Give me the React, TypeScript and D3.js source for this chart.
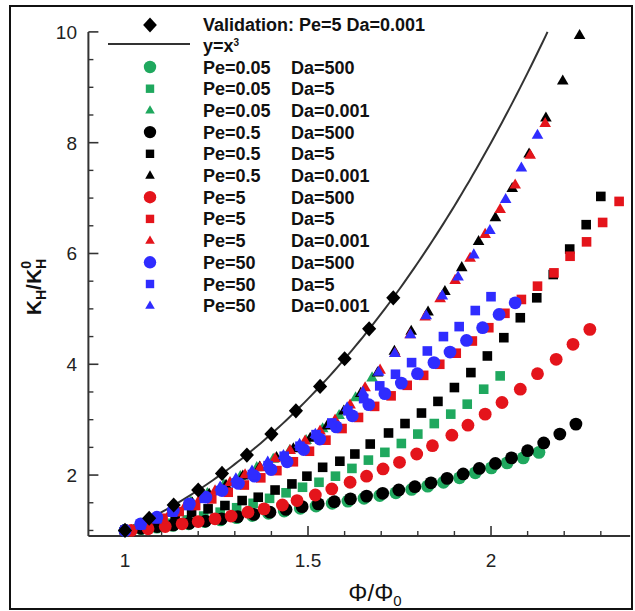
import React from "react";
import * as d3 from "d3";

// ---------- data ----------
const validationX = [1.0, 1.066, 1.133, 1.2, 1.265, 1.333, 1.4, 1.467, 1.533, 1.6, 1.667, 1.733];
const validationY = [1.0, 1.22, 1.46, 1.73, 2.03, 2.36, 2.74, 3.16, 3.6, 4.1, 4.64, 5.2];

const pe005Da500X = [1.0, 1.044, 1.087, 1.131, 1.174, 1.218, 1.261, 1.305, 1.348, 1.392, 1.435, 1.479, 1.522, 1.566, 1.609, 1.653, 1.696, 1.74, 1.783, 1.827, 1.87, 1.914, 1.957, 2.001, 2.044, 2.088, 2.131];
const pe005Da500Y = [1.0, 1.03, 1.06, 1.09, 1.12, 1.16, 1.19, 1.23, 1.27, 1.31, 1.35, 1.4, 1.44, 1.49, 1.53, 1.58, 1.63, 1.68, 1.74, 1.8, 1.87, 1.95, 2.04, 2.13, 2.22, 2.31, 2.41];

const pe005Da5X = [1.0, 1.035, 1.08, 1.125, 1.17, 1.215, 1.26, 1.305, 1.35, 1.395, 1.44, 1.485, 1.53, 1.575, 1.62, 1.665, 1.71, 1.755, 1.8, 1.845, 1.89, 1.935, 1.98, 2.025];
const pe005Da5Y = [1.0, 1.03, 1.08, 1.13, 1.19, 1.26, 1.33, 1.41, 1.49, 1.58, 1.68, 1.78, 1.87, 1.98, 2.12, 2.27, 2.41, 2.57, 2.74, 2.93, 3.1, 3.28, 3.55, 3.79];

const pe005Da0001X = [1.0, 1.045, 1.09, 1.135, 1.18, 1.225, 1.27, 1.315, 1.36, 1.405, 1.45, 1.495, 1.54, 1.585, 1.63, 1.675];
const pe005Da0001Y = [1.0, 1.11, 1.23, 1.37, 1.52, 1.67, 1.83, 1.98, 2.14, 2.29, 2.45, 2.63, 2.84, 3.08, 3.4, 3.76];

const pe05Da500X = [1.0, 1.044, 1.088, 1.132, 1.176, 1.22, 1.264, 1.308, 1.352, 1.396, 1.44, 1.484, 1.528, 1.572, 1.616, 1.66, 1.704, 1.748, 1.792, 1.836, 1.88, 1.924, 1.968, 2.012, 2.056, 2.1, 2.144, 2.188, 2.232];
const pe05Da500Y = [1.0, 1.04, 1.07, 1.1, 1.13, 1.17, 1.21, 1.25, 1.29, 1.33, 1.38, 1.43, 1.48, 1.52, 1.57, 1.62, 1.67, 1.73, 1.79, 1.86, 1.94, 2.02, 2.12, 2.21, 2.31, 2.44, 2.58, 2.74, 2.92];

const pe05Da5X = [1.0, 1.046, 1.091, 1.137, 1.182, 1.227, 1.273, 1.32, 1.364, 1.41, 1.456, 1.497, 1.54, 1.587, 1.628, 1.67, 1.72, 1.765, 1.81, 1.855, 1.9, 1.945, 1.99, 2.035, 2.08, 2.125, 2.17, 2.215, 2.26, 2.3];
const pe05Da5Y = [1.0, 1.08, 1.16, 1.24, 1.32, 1.39, 1.45, 1.54, 1.6, 1.73, 1.84, 1.98, 2.14, 2.25, 2.38, 2.56, 2.76, 2.93, 3.12, 3.33, 3.58, 3.85, 4.15, 4.48, 4.84, 5.2, 5.62, 6.08, 6.52, 7.03];

const pe05Da0001X = [1.0, 1.046, 1.092, 1.138, 1.184, 1.23, 1.276, 1.322, 1.368, 1.414, 1.46, 1.506, 1.552, 1.598, 1.644, 1.69, 1.736, 1.782, 1.828, 1.874, 1.92, 1.966, 2.012, 2.058, 2.104, 2.15, 2.196, 2.242];
const pe05Da0001Y = [1.0, 1.11, 1.23, 1.36, 1.5, 1.66, 1.82, 1.99, 2.15, 2.32, 2.48, 2.67, 2.89, 3.16, 3.48, 3.85, 4.24, 4.6, 4.95, 5.32, 5.75, 6.22, 6.65, 7.18, 7.8, 8.45, 9.12, 9.94];

const pe5Da500X = [1.017, 1.063, 1.11, 1.156, 1.2, 1.246, 1.29, 1.336, 1.38, 1.43, 1.47, 1.52, 1.565, 1.615, 1.66, 1.705, 1.75, 1.797, 1.84, 1.893, 1.937, 1.984, 2.03, 2.08, 2.127, 2.178, 2.224, 2.27];
const pe5Da500Y = [1.0, 1.03, 1.07, 1.12, 1.16, 1.21, 1.26, 1.33, 1.39, 1.46, 1.54, 1.64, 1.75, 1.87, 1.98, 2.11, 2.23, 2.38, 2.53, 2.72, 2.9, 3.1, 3.31, 3.55, 3.83, 4.09, 4.36, 4.63];

const pe5Da5X = [1.0, 1.059, 1.104, 1.148, 1.193, 1.237, 1.282, 1.326, 1.371, 1.415, 1.46, 1.504, 1.549, 1.593, 1.638, 1.682, 1.727, 1.771, 1.816, 1.86, 1.905, 1.949, 1.994, 2.038, 2.083, 2.127, 2.172, 2.216, 2.261, 2.305, 2.35];
const pe5Da5Y = [1.0, 1.11, 1.22, 1.34, 1.45, 1.57, 1.69, 1.82, 1.95, 2.08, 2.24, 2.43, 2.63, 2.84, 3.04, 3.24, 3.43, 3.62, 3.8, 4.0, 4.2, 4.42, 4.66, 4.92, 5.17, 5.41, 5.65, 5.95, 6.21, 6.56, 6.94];

const pe5Da0001X = [1.0, 1.041, 1.082, 1.123, 1.164, 1.205, 1.246, 1.287, 1.328, 1.369, 1.41, 1.451, 1.492, 1.533, 1.574, 1.615, 1.656, 1.697, 1.738, 1.779, 1.82, 1.861, 1.902, 1.943, 1.984, 2.025, 2.066, 2.107, 2.148];
const pe5Da0001Y = [1.0, 1.1, 1.2, 1.32, 1.44, 1.58, 1.72, 1.87, 2.01, 2.14, 2.3, 2.45, 2.62, 2.8, 3.0, 3.27, 3.58, 3.9, 4.2, 4.54, 4.86, 5.19, 5.52, 5.92, 6.35, 6.8, 7.24, 7.78, 8.35];

const pe50Da500X = [1.0, 1.043, 1.087, 1.132, 1.176, 1.221, 1.265, 1.31, 1.354, 1.399, 1.443, 1.488, 1.532, 1.577, 1.621, 1.666, 1.71, 1.755, 1.799, 1.844, 1.888, 1.933, 1.977, 2.022, 2.066];
const pe50Da500Y = [1.0, 1.12, 1.24, 1.36, 1.48, 1.6, 1.72, 1.85, 1.98, 2.1, 2.24, 2.46, 2.65, 2.87, 3.07, 3.27, 3.47, 3.66, 3.83, 4.03, 4.22, 4.43, 4.66, 4.9, 5.11];

const pe50Da5X = [1.0, 1.043, 1.087, 1.13, 1.174, 1.217, 1.261, 1.304, 1.348, 1.391, 1.435, 1.478, 1.522, 1.565, 1.609, 1.652, 1.696, 1.739, 1.783, 1.826, 1.87, 1.913, 1.957, 2.0];
const pe50Da5Y = [1.0, 1.1, 1.21, 1.33, 1.45, 1.58, 1.72, 1.86, 2.01, 2.17, 2.34, 2.52, 2.73, 2.94, 3.16, 3.38, 3.61, 3.82, 4.03, 4.24, 4.5, 4.68, 4.97, 5.22];

const pe50Da0001X = [1.0, 1.043, 1.087, 1.13, 1.173, 1.217, 1.26, 1.303, 1.347, 1.39, 1.433, 1.477, 1.52, 1.563, 1.607, 1.65, 1.693, 1.737, 1.78, 1.823, 1.867, 1.91, 1.953, 1.997, 2.04, 2.083, 2.127];
const pe50Da0001Y = [1.0, 1.1, 1.22, 1.34, 1.48, 1.62, 1.79, 1.94, 2.08, 2.24, 2.36, 2.56, 2.74, 2.92, 3.22, 3.5, 3.86, 4.2, 4.54, 4.88, 5.24, 5.58, 5.98, 6.42, 6.98, 7.55, 8.14];

const peLabels = ["Pe=0.05", "Pe=0.05", "Pe=0.05", "Pe=0.5", "Pe=0.5", "Pe=0.5", "Pe=5", "Pe=5", "Pe=5", "Pe=50", "Pe=50", "Pe=50"];
const daLabels = ["Da=500", "Da=5", "Da=0.001", "Da=500", "Da=5", "Da=0.001", "Da=500", "Da=5", "Da=0.001", "Da=500", "Da=5", "Da=0.001"];

const xMajorTicks = [1, 1.5, 2];
const xTickLabels = ["1", "1.5", "2"];
const xMinorTicks = [1.1, 1.2, 1.3, 1.4, 1.6, 1.7, 1.8, 1.9, 2.1, 2.2, 2.3];
const yMajorTicks = [2, 4, 6, 8, 10];
const yTickLabels = ["2", "4", "6", "8", "10"];
const yMinorTicks = [1, 1.5, 2.5, 3, 3.5, 4.5, 5, 5.5, 6.5, 7, 7.5, 8.5, 9, 9.5];

// ---------- styling ----------
const GREEN = "#1fa85e";
const BLACK = "#000000";
const RED = "#e4141b";
const BLUE = "#2f2cff";
const FONT = "'Liberation Sans', Arial, Helvetica, sans-serif";

type Shape = "circle" | "square" | "triangle" | "diamond";

const seriesList: { xs: number[]; ys: number[]; color: string; shape: Shape }[] = [
  { xs: pe005Da500X, ys: pe005Da500Y, color: GREEN, shape: "circle" },
  { xs: pe005Da5X, ys: pe005Da5Y, color: GREEN, shape: "square" },
  { xs: pe005Da0001X, ys: pe005Da0001Y, color: GREEN, shape: "triangle" },
  { xs: pe05Da500X, ys: pe05Da500Y, color: BLACK, shape: "circle" },
  { xs: pe05Da5X, ys: pe05Da5Y, color: BLACK, shape: "square" },
  { xs: pe05Da0001X, ys: pe05Da0001Y, color: BLACK, shape: "triangle" },
  { xs: pe5Da500X, ys: pe5Da500Y, color: RED, shape: "circle" },
  { xs: pe5Da5X, ys: pe5Da5Y, color: RED, shape: "square" },
  { xs: pe5Da0001X, ys: pe5Da0001Y, color: RED, shape: "triangle" },
  { xs: pe50Da500X, ys: pe50Da500Y, color: BLUE, shape: "circle" },
  { xs: pe50Da5X, ys: pe50Da5Y, color: BLUE, shape: "square" },
  { xs: pe50Da0001X, ys: pe50Da0001Y, color: BLUE, shape: "triangle" },
];

function Marker({ cx, cy, shape, color, s }: { cx: number; cy: number; shape: Shape; color: string; s: number }) {
  if (shape === "circle") return <circle cx={cx} cy={cy} r={s} fill={color} />;
  if (shape === "square") return <rect x={cx - s} y={cy - s} width={2 * s} height={2 * s} fill={color} />;
  if (shape === "triangle") {
    const h = s * 1.732;
    const pts = `${cx},${cy - h * 0.62} ${cx + s},${cy + h * 0.38} ${cx - s},${cy + h * 0.38}`;
    return <polygon points={pts} fill={color} />;
  }
  const pts = `${cx},${cy - s} ${cx + s * 0.93},${cy} ${cx},${cy + s} ${cx - s * 0.93},${cy}`;
  return <polygon points={pts} fill={color} />;
}

const dataSize: Record<Shape, number> = { circle: 6.4, square: 4.8, triangle: 5.8, diamond: 7.6 };
const legendSize: Record<Shape, number> = { circle: 6.2, square: 4.2, triangle: 4.8, diamond: 7.4 };

export default function App() {
  const x = d3.scaleLinear().domain([0.9, 2.38]).range([88.4, 630.1]);
  const y = d3.scaleLinear().domain([0.9, 10]).range([536, 31.9]);

  const x0 = x(0.9);
  const x1 = x(2.38);
  const y0 = y(0.9);
  const y1 = y(10);

  // y = x^3 reference curve (the analytical curve named in the legend)
  const cubeX = d3.range(1, 2.1545, 0.01).concat([2.1544]);
  const cubeLine = d3
    .line<number>()
    .x((d) => x(d))
    .y((d) => y(d * d * d))
    .curve(d3.curveMonotoneX)(cubeX) as string;

  const legendSymX = 150;
  const legendTextX = 203;
  const legendDaX = 291;
  const rowY = (i: number) => 67 + i * 21.7;

  return (
    <svg
      width={635}
      height={611}
      viewBox="0 0 635 611"
      style={{ position: "absolute", left: 0, top: 0, display: "block", background: "#fff" }}
      fontFamily={FONT}
    >
      <rect x={0} y={0} width={635} height={611} fill="#fff" />
      {/* outer frame */}
      <rect x={10} y={6} width={622} height={603} fill="none" stroke="#111" strokeWidth={2} />

      {/* axes */}
      <line x1={x0} y1={y0} x2={x1} y2={y0} stroke="#333" strokeWidth={2} />
      <line x1={x0} y1={y0} x2={x0} y2={y1} stroke="#333" strokeWidth={2} />
      {xMajorTicks.map((t) => (
        <line key={"xM" + t} x1={x(t)} x2={x(t)} y1={y0} y2={y0 - 10} stroke="#333" strokeWidth={1.6} />
      ))}
      {xMinorTicks.map((t) => (
        <line key={"xm" + t} x1={x(t)} x2={x(t)} y1={y0} y2={y0 - 5} stroke="#333" strokeWidth={1.4} />
      ))}
      {yMajorTicks.map((t) => (
        <line key={"yM" + t} x1={x0} x2={x0 + 10} y1={y(t)} y2={y(t)} stroke="#333" strokeWidth={1.6} />
      ))}
      {yMinorTicks.map((t) => (
        <line key={"ym" + t} x1={x0} x2={x0 + 5} y1={y(t)} y2={y(t)} stroke="#333" strokeWidth={1.4} />
      ))}
      {xMajorTicks.map((t, i) => (
        <text key={"xl" + t} x={x(t)} y={567} textAnchor="middle" fontSize={19} fill="#222">
          {xTickLabels[i]}
        </text>
      ))}
      {yMajorTicks.map((t, i) => (
        <text key={"yl" + t} x={77} y={y(t) + 7} textAnchor="end" fontSize={19} fill="#222">
          {yTickLabels[i]}
        </text>
      ))}

      {/* axis titles */}
      <text x={375} y={601} textAnchor="middle" fontSize={24} fill="#111">
        Φ/Φ<tspan fontSize={15} dy={5}>0</tspan>
      </text>
      <text transform="translate(41,287) rotate(-90)" textAnchor="middle" fontSize={21} fontWeight="bold" fill="#111">
        K<tspan fontSize={14} dy={5}>H</tspan>
        <tspan dy={-5}>/K</tspan>
        <tspan fontSize={14} dy={5}>H</tspan>
        <tspan fontSize={14} dx={-10} dy={-15}>0</tspan>
      </text>

      {/* y = x^3 curve */}
      <path d={cubeLine} fill="none" stroke="#333" strokeWidth={2} />

      {/* data series */}
      {seriesList.map((s, si) => (
        <g key={"s" + si}>
          {s.xs.map((xv, i) => (
            <Marker key={i} cx={x(xv)} cy={y(s.ys[i])} shape={s.shape} color={s.color} s={dataSize[s.shape]} />
          ))}
        </g>
      ))}

      {/* validation points */}
      <g>
        {validationX.map((xv, i) => (
          <Marker key={"v" + i} cx={x(xv)} cy={y(validationY[i])} shape="diamond" color="#000" s={dataSize.diamond} />
        ))}
      </g>

      {/* legend */}
      <g fontSize={18} fontWeight="bold" fill="#111">
        <Marker cx={legendSymX} cy={25} shape="diamond" color="#000" s={legendSize.diamond} />
        <text x={legendTextX} y={31}>Validation: Pe=5 Da=0.001</text>
        <line x1={108} x2={190} y1={44} y2={44} stroke="#333" strokeWidth={2} />
        <text x={legendTextX} y={52}>
          y=x<tspan fontSize={10} dy={-6}>3</tspan>
        </text>
        {seriesList.map((s, i) => (
          <g key={"lg" + i}>
            <Marker cx={legendSymX} cy={rowY(i)} shape={s.shape} color={s.color} s={legendSize[s.shape]} />
            <text x={legendTextX} y={rowY(i) + 6.5}>{peLabels[i]}</text>
            <text x={legendDaX} y={rowY(i) + 6.5}>{daLabels[i]}</text>
          </g>
        ))}
      </g>
    </svg>
  );
}
